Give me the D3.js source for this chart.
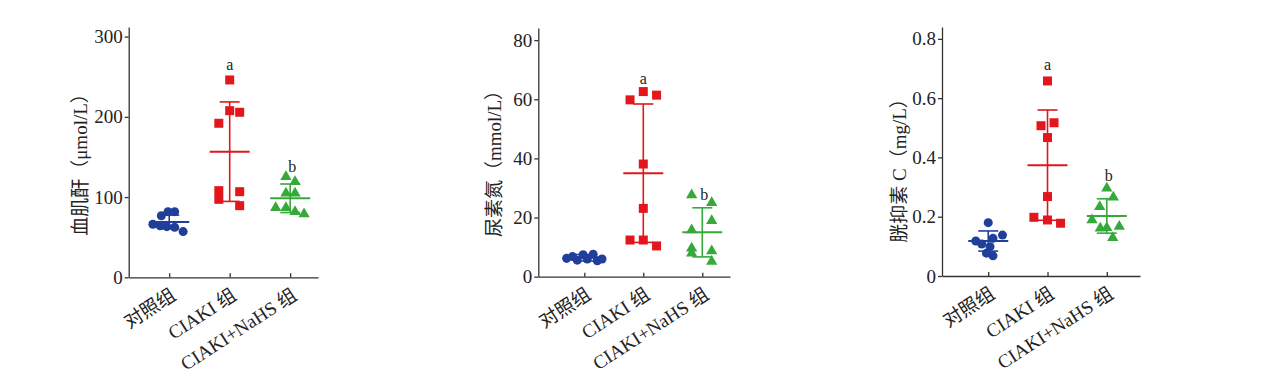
<!DOCTYPE html>
<html>
  <head>
    <meta charset="utf-8">
    <script src="https://d3js.org/d3.v7.min.js"></script>
    <style>
      body { margin: 0; background: #fff; }
      .tick text { font-family: "Liberation Serif", serif; font-size: 19px; fill: #222; }
      .domain, .tick line { stroke: #333; stroke-width: 1.3; }
      .axis-title { font-family: "Liberation Serif", "Noto Sans CJK SC", serif; font-size: 19px; fill: #222; }
      .grp-label { font-family: "Liberation Serif", "Noto Sans CJK SC", serif; font-size: 19px; fill: #222; }
      .sig { font-family: "Liberation Serif", serif; font-size: 16px; fill: #222; }
    </style>
  </head>
  <body>
    <svg width="1269" height="381"></svg>
    <script>
      // groups and colours
      const groups = ['对照组', 'CIAKI 组', 'CIAKI+NaHS 组'];
      const colors = ['#203f9a', '#e2161b', '#35a93a'];
      const shapes = [d3.symbolCircle, d3.symbolSquare, d3.symbolTriangle];

      // panel 1: serum creatinine
      const scrCtrl  = [81.8, 81.8, 76.8, 66.1, 64.3, 63.1, 62.3, 57];
      const scrCiaki = [246, 207.7, 205.7, 192, 108, 106.7, 97.2, 89.3];
      const scrNahs  = [125.4, 119.2, 104.7, 104.7, 86.8, 86.8, 81.8, 78.9];
      const scrMean = [69, 156.6, 98.5];
      const scrSd   = [8.5, 62, 17.8];
      const scrTicks = [0, 100, 200, 300];

      // panel 2: urea nitrogen
      const bunCtrl  = [6.2, 6.8, 5.6, 7.4, 6.0, 7.6, 5.4, 6.0];
      const bunCiaki = [59.8, 62.6, 61.4, 38.1, 23.1, 12.4, 12.4, 10.4];
      const bunNahs  = [27.6, 25.0, 18.9, 15.8, 9.6, 7.9, 8.7, 5.1];
      const bunMean = [6.4, 35.0, 15.0];
      const bunSd   = [1.1, 23.4, 8.3];
      const bunTicks = [0, 20, 40, 60, 80];

      // panel 3: cystatin C
      const cysCtrl  = [0.18, 0.138, 0.127, 0.118, 0.108, 0.099, 0.077, 0.068];
      const cysCiaki = [0.658, 0.507, 0.517, 0.467, 0.268, 0.198, 0.189, 0.178];
      const cysNahs  = [0.296, 0.266, 0.234, 0.189, 0.161, 0.163, 0.167, 0.129];
      const cysMean = [0.118, 0.374, 0.2025];
      const cysSd   = [0.034, 0.186, 0.058];
      const cysTicks = [0, 0.2, 0.4, 0.6, 0.8];

      // horizontal scatter of the dots (fraction of a group step)
      const scrJitter = [[-0.02, 0.09, -0.13, -0.27, -0.15, -0.04, 0.09, 0.23],
                         [0, 0, 0.165, -0.18, -0.18, 0.165, -0.18, 0.165],
                         [-0.07, 0.08, -0.07, 0.08, -0.24, -0.07, 0.08, 0.23]];
      const bunJitter = [[-0.3, -0.2, -0.12, -0.02, 0.05, 0.15, 0.22, 0.3],
                         [-0.225, 0, 0.225, 0, 0, -0.225, 0, 0.225],
                         [-0.18, 0.16, 0.16, -0.18, -0.18, -0.18, 0.16, 0.16]];
      const cysJitter = [[0, 0.24, 0.08, -0.21, -0.11, 0.03, -0.03, 0.08],
                         [0, -0.11, 0.11, 0, 0, -0.23, 0, 0.22],
                         [0, 0.11, -0.12, -0.25, -0.11, 0, 0.21, 0.1]];

      // significance letters (value where they sit)
      const scrSig = [null, 264.7, 137.5];
      const bunSig = [null, 67.1, 27.9];
      const cysSig = [null, 0.712, 0.338];
      const sigText = ['', 'a', 'b'];

      const titles = ['血肌酐（μmol/L）', '尿素氮（mmol/L）', '胱抑素 C（mg/L）'];

      const panels = [
        { title: titles[0], data: [scrCtrl, scrCiaki, scrNahs], jit: scrJitter, mean: scrMean, sd: scrSd,
          ticks: scrTicks, sig: scrSig, fmt: d3.format('d'),
          ax: 128.7, y0: 277.3, yTop: 27, yMax: 312, xDom: [-0.67, 2.46], xRight: 318, tx: 80, ty: 160 },
        { title: titles[1], data: [bunCtrl, bunCiaki, bunNahs], jit: bunJitter, mean: bunMean, sd: bunSd,
          ticks: bunTicks, sig: bunSig, fmt: d3.format('d'),
          ax: 538.3, y0: 276.7, yTop: 28, yMax: 84.1, xDom: [-0.78, 2.47], xRight: 730, tx: 494, ty: 159 },
        { title: titles[2], data: [cysCtrl, cysCiaki, cysNahs], jit: cysJitter, mean: cysMean, sd: cysSd,
          ticks: cysTicks, sig: cysSig, fmt: d => d === 0 ? '0' : d3.format('.1f')(d),
          ax: 942, y0: 276, yTop: 27, yMax: 0.84, xDom: [-0.78, 2.56], xRight: 1140, tx: 899, ty: 166 }
      ];

      const svg = d3.select('svg');

      panels.forEach(p => {
        const g = svg.append('g');
        const x = d3.scaleLinear().domain(p.xDom).range([p.ax, p.xRight]);
        const y = d3.scaleLinear().domain([0, p.yMax]).range([p.y0, p.yTop]);

        g.append('g')
          .attr('transform', `translate(${p.ax},0)`)
          .call(d3.axisLeft(y).tickValues(p.ticks).tickFormat(p.fmt)
            .tickSize(4).tickPadding(2).tickSizeOuter(0));

        g.append('g')
          .attr('transform', `translate(0,${p.y0})`)
          .call(d3.axisBottom(x).tickValues([0, 1, 2]).tickFormat('')
            .tickSize(-4).tickSizeOuter(0));

        // rotated group labels
        groups.forEach((name, i) => {
          g.append('text')
            .attr('class', 'grp-label')
            .attr('text-anchor', 'end')
            .attr('transform', `translate(${x(i) + 8},${p.y0 + 21}) rotate(-33)`)
            .text(name);
        });

        g.append('text')
          .attr('class', 'axis-title')
          .attr('text-anchor', 'middle')
          .attr('dominant-baseline', 'central')
          .attr('transform', `translate(${p.tx},${p.ty}) rotate(-90)`)
          .text(p.title);

        p.data.forEach((vals, i) => {
          const col = colors[i];
          const sym = d3.symbol().type(shapes[i]).size(i === 0 ? 64 : i === 1 ? 81 : 55);
          g.selectAll(null).data(vals).enter().append('path')
            .attr('d', sym)
            .attr('fill', col)
            .attr('transform', (d, k) => `translate(${x(i + p.jit[i][k])},${y(d)})`);

          const m = p.mean[i], s = p.sd[i];
          const cx = x(i);
          const eb = g.append('g').attr('stroke', col).attr('fill', 'none');
          eb.append('line').attr('x1', cx).attr('x2', cx)
            .attr('y1', y(m - s)).attr('y2', y(m + s)).attr('stroke-width', 1.6);
          [m - s, m + s].forEach(v => {
            eb.append('line').attr('x1', cx - 10).attr('x2', cx + 10)
              .attr('y1', y(v)).attr('y2', y(v)).attr('stroke-width', 1.6);
          });
          eb.append('line').attr('x1', cx - 20).attr('x2', cx + 20)
            .attr('y1', y(m)).attr('y2', y(m)).attr('stroke-width', 2);

          if (p.sig[i] !== null) {
            g.append('text')
              .attr('class', 'sig')
              .attr('text-anchor', 'middle')
              .attr('dominant-baseline', 'central')
              .attr('x', cx + (i === 2 ? 2 : 0))
              .attr('y', y(p.sig[i]))
              .text(sigText[i]);
          }
        });
      });
    </script>
  </body>
</html>
